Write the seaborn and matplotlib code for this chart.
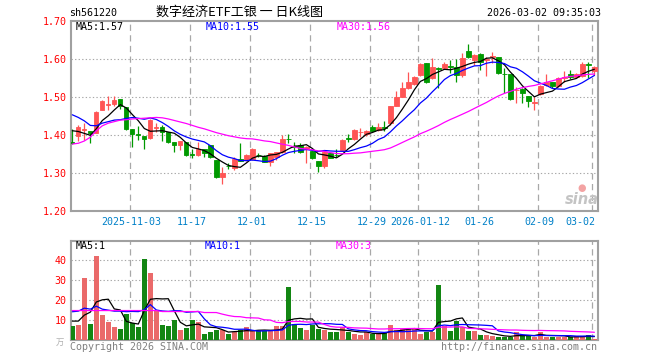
import numpy as np
import pandas as pd
import matplotlib
matplotlib.use("Agg")
import matplotlib.pyplot as plt
import matplotlib.transforms as mtransforms
import seaborn as sns

# ---------------- data ----------------
opens = [1.383, 1.397, 1.414, 1.411, 1.407, 1.467, 1.481, 1.483, 1.496, 1.475,
         1.417, 1.403, 1.397, 1.393, 1.420, 1.421, 1.408, 1.383, 1.374, 1.383,
         1.350, 1.347, 1.364, 1.375, 1.335, 1.290, 1.320, 1.313, 1.338, 1.335,
         1.337, 1.348, 1.346, 1.331, 1.344, 1.357, 1.391, 1.372, 1.375, 1.363,
         1.359, 1.333, 1.318, 1.353, 1.348, 1.361, 1.392, 1.390, 1.408, 1.404,
         1.421, 1.414, 1.422, 1.432, 1.477, 1.502, 1.525, 1.536, 1.559, 1.590,
         1.550, 1.578, 1.576, 1.583, 1.579, 1.559, 1.622, 1.597, 1.614, 1.597,
         1.607, 1.607, 1.561, 1.561, 1.518, 1.522, 1.504, 1.486, 1.509, 1.533,
         1.539, 1.531, 1.552, 1.561, 1.554, 1.556, 1.588, 1.568]
highs = [1.416, 1.427, 1.432, 1.411, 1.465, 1.493, 1.504, 1.504, 1.496, 1.475,
         1.417, 1.425, 1.397, 1.443, 1.432, 1.427, 1.409, 1.383, 1.385, 1.383,
         1.363, 1.382, 1.364, 1.375, 1.335, 1.316, 1.326, 1.344, 1.379, 1.351,
         1.366, 1.353, 1.348, 1.354, 1.357, 1.401, 1.404, 1.383, 1.379, 1.372,
         1.361, 1.333, 1.361, 1.357, 1.364, 1.390, 1.403, 1.416, 1.418, 1.414,
         1.427, 1.432, 1.438, 1.478, 1.517, 1.539, 1.567, 1.556, 1.590, 1.591,
         1.603, 1.581, 1.594, 1.598, 1.600, 1.616, 1.640, 1.613, 1.616, 1.607,
         1.620, 1.607, 1.576, 1.561, 1.526, 1.525, 1.504, 1.500, 1.533, 1.561,
         1.541, 1.553, 1.568, 1.572, 1.563, 1.594, 1.594, 1.583]
lows = [1.377, 1.384, 1.388, 1.381, 1.405, 1.466, 1.467, 1.476, 1.468, 1.414,
        1.370, 1.388, 1.363, 1.391, 1.408, 1.386, 1.381, 1.357, 1.361, 1.346,
        1.340, 1.346, 1.344, 1.340, 1.287, 1.272, 1.312, 1.309, 1.332, 1.333,
        1.335, 1.342, 1.330, 1.318, 1.335, 1.353, 1.379, 1.353, 1.354, 1.328,
        1.338, 1.304, 1.313, 1.340, 1.343, 1.360, 1.383, 1.388, 1.395, 1.397,
        1.410, 1.412, 1.412, 1.427, 1.476, 1.500, 1.522, 1.532, 1.557, 1.537,
        1.547, 1.524, 1.574, 1.563, 1.541, 1.554, 1.603, 1.585, 1.572, 1.556,
        1.590, 1.561, 1.511, 1.493, 1.486, 1.486, 1.474, 1.467, 1.506, 1.530,
        1.524, 1.528, 1.541, 1.548, 1.552, 1.554, 1.550, 1.559]
closes = [1.381, 1.421, 1.416, 1.406, 1.462, 1.490, 1.483, 1.493, 1.476, 1.417,
          1.404, 1.401, 1.391, 1.440, 1.421, 1.408, 1.383, 1.375, 1.385, 1.348,
          1.349, 1.364, 1.353, 1.342, 1.290, 1.300, 1.319, 1.337, 1.333, 1.347,
          1.363, 1.347, 1.331, 1.353, 1.355, 1.390, 1.390, 1.370, 1.357, 1.370,
          1.340, 1.318, 1.357, 1.341, 1.347, 1.388, 1.390, 1.414, 1.410, 1.411,
          1.412, 1.421, 1.420, 1.477, 1.502, 1.525, 1.541, 1.554, 1.587, 1.539,
          1.579, 1.575, 1.588, 1.581, 1.559, 1.603, 1.605, 1.611, 1.593, 1.602,
          1.609, 1.565, 1.560, 1.496, 1.520, 1.511, 1.491, 1.488, 1.531, 1.541,
          1.530, 1.550, 1.554, 1.553, 1.561, 1.588, 1.586, 1.581]
volumes = [7, 7.5, 31, 8, 42, 12.5, 9, 6.5, 5.5, 13.3,
           8.3, 6.5, 40.5, 33.7, 15, 7.5, 7, 10, 5, 6,
           10, 9, 3, 4, 5, 5, 3, 4, 5, 6.5,
           4.5, 4.5, 4.5, 4.5, 7, 7, 26.5, 8, 6, 5,
           7.5, 5.5, 5, 4.2, 4.2, 6.3, 4.2, 3, 2.5, 4.2,
           3, 3.3, 3.3, 7.5, 5.2, 5.3, 5.5, 5.3, 3.2, 4.2,
           4.2, 27.5, 7.2, 4.5, 9.7, 6.5, 4.5, 4.5, 2.5, 2.5,
           2, 1.7, 1.7, 1.3, 4.2, 2, 2, 1.7, 4.2, 1.7,
           1.7, 1.7, 1.3, 1.3, 2, 2, 2.5, 0.7]

# moving-average values at the left edge (window needs earlier days)
ma5_head = [1.412, 1.410, 1.405, 1.400]
ma10_head = [1.454, 1.447, 1.438, 1.426, 1.425, 1.432, 1.436, 1.440, 1.441]
ma30_head = [1.377, 1.379, 1.385, 1.395, 1.412, 1.425, 1.432, 1.436, 1.440, 1.441,
             1.443, 1.444, 1.445, 1.446, 1.447, 1.446, 1.443, 1.439, 1.435, 1.431,
             1.426, 1.421, 1.417, 1.412, 1.407, 1.403, 1.399, 1.396, 1.393]
vma5_head = [9.5, 9.5, 12.5, 14.0]
vma10_head = [14.2, 14.5, 16.0, 15.5, 17.0, 15.5, 15.0, 14.5, 14.5]
vma30_head = [14.8, 14.8, 14.8, 14.8, 14.8, 14.8, 14.8, 14.8, 14.8, 14.8,
              14.8, 14.8, 14.8, 14.8, 14.8, 14.3, 14.3, 14.3, 14.3, 14.3,
              14.3, 14.3, 13.8, 13.8, 13.8, 13.0, 12.3, 11.8, 11.7]

holidays = ["2026-01-01", "2026-01-02", "2026-02-16", "2026-02-17", "2026-02-18",
            "2026-02-19", "2026-02-20", "2026-02-23"]
tick_dates = ["2025-11-03", "2025-11-17", "2025-12-01", "2025-12-15", "2025-12-29",
              "2026-01-12", "2026-01-26", "2026-02-09", "2026-03-02"]
tick_labels = ["2025-11-03", "11-17", "12-01", "12-15", "12-29",
               "2026-01-12", "01-26", "02-09", "03-02"]
price_ticks = [1.20, 1.30, 1.40, 1.50, 1.60, 1.70]
vol_ticks = [10, 20, 30, 40]

title_code = "sh561220"
title_name = "数字经济ETF工银 一 日K线图"
timestamp = "2026-03-02 09:35:03"
ma_text = ["MA5:1.57", "MA10:1.55", "MA30:1.56"]
vma_text = ["MA5:1", "MA10:1", "MA30:3"]

# ---------------- derived ----------------
dates = pd.bdate_range("2025-10-20", "2026-03-02")
dates = dates[~dates.isin(pd.to_datetime(holidays))]
df = pd.DataFrame({"date": dates, "open": opens, "high": highs, "low": lows,
                   "close": closes, "vol": volumes})
df["i"] = np.arange(len(df))
df["dir"] = np.where(df["close"] >= df["open"], "up", "down")

def ma(series, n, head):
    m = series.rolling(n).mean()
    m.iloc[:len(head)] = head
    return m

df["ma5"] = ma(df["close"], 5, ma5_head)
df["ma10"] = ma(df["close"], 10, ma10_head)
df["ma30"] = ma(df["close"], 30, ma30_head)
df["vma5"] = ma(df["vol"], 5, vma5_head)
df["vma10"] = ma(df["vol"], 10, vma10_head)
df["vma30"] = ma(df["vol"], 30, vma30_head)

tick_pos = [int(df.index[df["date"] == pd.Timestamp(d)][0]) for d in tick_dates]

# ---------------- style ----------------
sns.set_style("white")
plt.rcParams["font.family"] = ["DejaVu Sans Mono", "Noto Sans CJK SC"]
RED = "#ff5555"
GREEN = "#009900"
GRID = "#a8a8a8"
FRAME = "#a0a0a0"
MONO = 7.2
pal = {"up": RED, "down": GREEN}

W, H = 660, 360
fig = plt.figure(figsize=(W / 100, H / 100), dpi=100)
fig.patch.set_facecolor("white")

def rect(l, t, r, b):
    return [l / W, 1 - b / H, (r - l) / W, (b - t) / H]

def fx(px):
    return px / W

def fy(py):
    return 1 - py / H

ax1 = fig.add_axes(rect(70.7, 21.3, 598, 211.3))
ax2 = fig.add_axes(rect(70.7, 240.5, 598, 340))
XL = (-0.27, 87.6)

# ---------------- price panel ----------------
cols = df["dir"].map(pal)
ax1.vlines(df["i"], df["low"], df["high"], colors=cols, linewidth=0.9, zorder=3)
ax1.bar(df["i"], (df["close"] - df["open"]).abs(),
        bottom=df[["open", "close"]].min(axis=1), width=0.72,
        color=cols, edgecolor=cols, linewidth=0.6, zorder=4)
sns.lineplot(data=df, x="i", y="ma5", color="black", linewidth=0.9, ax=ax1, zorder=5)
sns.lineplot(data=df, x="i", y="ma10", color="#0000ff", linewidth=0.9, ax=ax1, zorder=5)
sns.lineplot(data=df, x="i", y="ma30", color="#ff00ff", linewidth=0.9, ax=ax1, zorder=5)

ax1.set_xlim(*XL)
ax1.set_ylim(price_ticks[0], price_ticks[-1])
for p in price_ticks[1:-1]:
    ax1.axhline(p, color=GRID, linewidth=0.8, linestyle=(0, (1.2, 2.0)), zorder=1)

# ---------------- volume panel ----------------
sns.barplot(data=df, x="i", y="vol", hue="dir", palette=pal, native_scale=True,
            dodge=False, width=0.8, linewidth=0, legend=False, errorbar=None,
            ax=ax2, zorder=3)
sns.lineplot(data=df, x="i", y="vma5", color="black", linewidth=0.9, ax=ax2, zorder=5)
sns.lineplot(data=df, x="i", y="vma10", color="#0000ff", linewidth=0.9, ax=ax2, zorder=5)
sns.lineplot(data=df, x="i", y="vma30", color="#ff00ff", linewidth=0.9, ax=ax2, zorder=5)
ax2.set_xlim(*XL)
ax2.set_ylim(0, 50)
for v in vol_ticks:
    ax2.axhline(v, color=GRID, linewidth=0.8, linestyle=(0, (1.2, 2.0)), zorder=1)

# ---------------- common decorations ----------------
for ax in (ax1, ax2):
    for x in tick_pos:
        ax.axvline(x - 0.33, color=GRID, linewidth=0.9, linestyle=(0, (5, 3.5)), zorder=1)
    for s in ax.spines.values():
        s.set_color(FRAME)
        s.set_linewidth(1.5)
    ax.set_xlabel("")
    ax.set_ylabel("")
    ax.set_xticks([])
    ax.tick_params(axis="y", length=0, pad=3.0, labelcolor="#ff0000", labelsize=MONO)
    ax.set_facecolor("white")

ax1.set_yticks(price_ticks)
ax1.set_yticklabels([f"{p:.2f}" for p in price_ticks])
ax2.set_yticks(vol_ticks)
ax2.set_yticklabels([str(v) for v in vol_ticks])

# date labels
trans = mtransforms.blended_transform_factory(ax1.transData, ax1.transAxes)
for k, (x, lab) in enumerate(zip(tick_pos, tick_labels)):
    if k == len(tick_pos) - 1:
        ax1.text(x + 0.2, -0.056, lab, transform=trans, ha="right", va="center",
                 fontsize=MONO, color="#0080c8", clip_on=False)
    else:
        ax1.text(x - 0.1, -0.056, lab, transform=trans, ha="center", va="center",
                 fontsize=MONO, color="#0080c8", clip_on=False)

# header texts
fig.text(fx(69), fy(13.3), title_code, ha="left", va="center", fontsize=MONO, color="black")
fig.text(fx(239), fy(12.7), title_name, ha="center", va="center", fontsize=9.4,
         color="black", family=["Noto Sans CJK SC", "DejaVu Sans"])
fig.text(fx(601), fy(13.3), timestamp, ha="right", va="center", fontsize=MONO, color="black")

# MA legends
ma_colors = ["black", "#0000ff", "#ff00ff"]
for txt, c, x in zip(ma_text, ma_colors, [75.3, 206, 337]):
    fig.text(fx(x), fy(26.5), txt, ha="left", va="center", fontsize=MONO, color=c)
for txt, c, x in zip(vma_text, ma_colors, [75.3, 204.5, 335.5]):
    fig.text(fx(x), fy(246.3), txt, ha="left", va="center", fontsize=MONO, color=c)

# footer
fig.text(fx(70), fy(346.5), "Copyright 2026 SINA.COM", ha="left", va="center",
         fontsize=MONO, color="#808080")
fig.text(fx(597), fy(346.5), "http://finance.sina.com.cn", ha="right", va="center",
         fontsize=MONO, color="#808080")
fig.text(fx(60), fy(342), "万", ha="center", va="center", fontsize=6,
         color="#b0b0b0", family=["Noto Sans CJK SC", "DejaVu Sans"])

# sina watermark
fig.text(fx(582), fy(188.5), "●", ha="center", va="center", fontsize=7,
         color="#f3a3a3", family=["DejaVu Sans"])
fig.text(fx(582), fy(200), "sina", ha="center", va="center", fontsize=10.5,
         color="#c4c4c4", weight="bold", style="italic", family=["DejaVu Sans"])

fig.savefig("out.png", dpi=100, facecolor="white")
